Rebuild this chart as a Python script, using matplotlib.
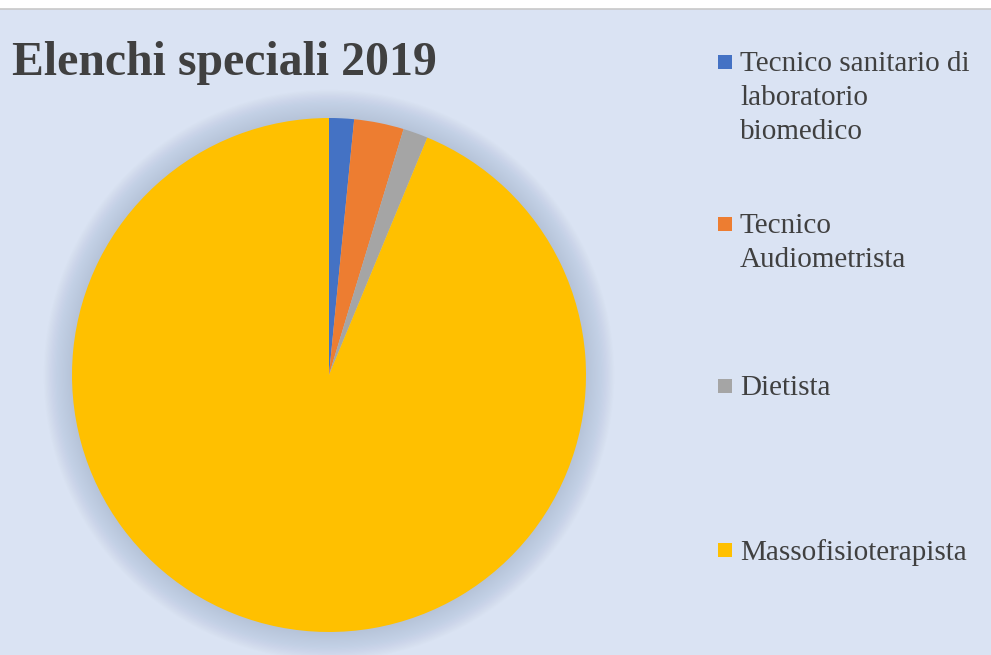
import matplotlib
matplotlib.use("Agg")
import matplotlib.pyplot as plt
from matplotlib.patches import Circle, Rectangle

title = "Elenchi speciali 2019"
categories = ["Tecnico sanitario di\nlaboratorio\nbiomedico",
              "Tecnico\nAudiometrista",
              "Dietista",
              "Massofisioterapista"]
values = [1, 2, 1, 60]
colors = ["#4472C4", "#ED7D31", "#A5A5A5", "#FFC000"]

BG = "#DAE3F3"
TXT = "#404040"
W, H = 991, 655

fig = plt.figure(figsize=(W / 100, H / 100), dpi=100, facecolor="white")
fig.patches.append(Rectangle((0, 0), 1, 1 - 9 / H, transform=fig.transFigure,
                             facecolor=BG, edgecolor="none", zorder=-10))
fig.lines.append(plt.Line2D([0, 1], [1 - 8.5 / H, 1 - 8.5 / H], transform=fig.transFigure,
                            color="#C8C8C8", lw=1.2, zorder=-9))

cx, cy, r = 329, 375, 257
pad = 1.16
ax = fig.add_axes([(cx - r * pad) / W, (H - cy - r * pad) / H, 2 * r * pad / W, 2 * r * pad / H])

# soft shadow
n = 24
for i in range(n):
    rr = 1.0 + 0.11 * (i + 1) / n
    ax.add_patch(Circle((0, 0), rr, facecolor="#8496B0", edgecolor="none", alpha=0.016, zorder=0))

wedges, _ = ax.pie(values, colors=colors, startangle=90, counterclock=False,
                   radius=1.0, wedgeprops=dict(linewidth=0))
for w in wedges:
    w.set_zorder(2)
ax.set_xlim(-pad, pad)
ax.set_ylim(-pad, pad)
ax.set_aspect("equal")
ax.axis("off")

fig.text(12 / W, 1 - 75 / H, title, fontsize=34.4, fontweight="bold",
         family="Liberation Serif", color=TXT, va="baseline", ha="left")

tops = [52, 214, 376, 540]
for lab, col, top in zip(categories, colors, tops):
    fig.patches.append(Rectangle((718 / W, 1 - (top + 17) / H), 14 / W, 14 / H,
                                 transform=fig.transFigure, facecolor=col, edgecolor="none"))
    fig.text(740 / W, 1 - (top - 1) / H, lab, fontsize=21, family="Liberation Serif",
             color=TXT, va="top", ha="left", linespacing=1.4)

fig.savefig("out.png", dpi=100, facecolor=fig.get_facecolor())
